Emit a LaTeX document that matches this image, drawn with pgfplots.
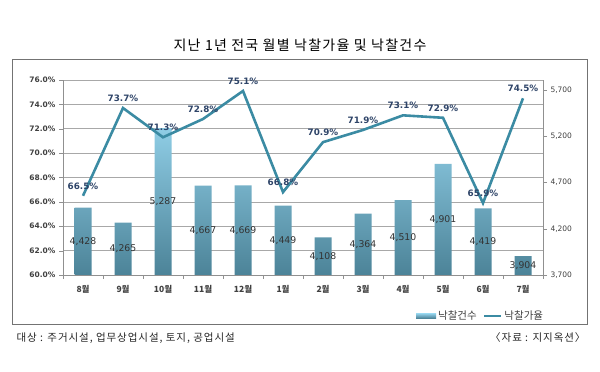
\documentclass[border=0pt]{standalone}
\usepackage{fontspec}
\usepackage{pgfplots}
\pgfplotsset{compat=1.18}
\setmainfont{Noto Sans CJK KR}
\newfontfamily\wide{Noto Sans CJK KR}[LetterSpace=9]
\newfontfamily\dv{DejaVu Sans}
\definecolor{linec}{HTML}{3B8BA3}
\definecolor{labc}{HTML}{2E4468}
\definecolor{bartop}{HTML}{8FCDE5}
\definecolor{barbot}{HTML}{4C8398}
\definecolor{tickc}{HTML}{404040}
\definecolor{gridc}{HTML}{A8A8A8}
\definecolor{axc}{HTML}{909090}
\begin{document}
\begin{tikzpicture}[x=1pt,y=1pt]
\path[use as bounding box] (0,0) rectangle (600,372);
\draw[color=gray!90!black, line width=1pt] (12,312) rectangle (587,47);
\node[font=\wide\fontsize{14}{16}\selectfont] at (300,327) {지난 1년 전국 월별 낙찰가율 및 낙찰건수};
% axis 1: grid, left axis, x axis
\begin{axis}[
  at={(63pt,97pt)}, anchor=south west,
  width=480pt, height=195pt, scale only axis,
  xmin=-0.5, xmax=11.5, ymin=60, ymax=76,
  axis y line*=left, axis x line*=bottom,
  axis line style={color=axc},
  ytick={60,62,...,76},
  ymajorgrids, grid style={color=gridc, line width=0.6pt},
  yticklabel={\pgfmathprintnumber[fixed,fixed zerofill,precision=1]{\tick}\%},
  /pgf/number format/assume math mode=true,
  y tick label style={font=\dv\bfseries\fontsize{7.5}{8}\selectfont, text=tickc},
  xtick={0,...,11},
  xticklabels={8월,9월,10월,11월,12월,1월,2월,3월,4월,5월,6월,7월},
  x tick label style={font=\bfseries\fontsize{8.5}{9}\selectfont, text=tickc, yshift=-3pt},
  major x tick style={draw=none},
  minor xtick={-0.5,0.5,...,11.5},
  tick align=outside,
  major tick length=4pt, minor tick length=4pt,
  tick style={color=axc},
]
\addplot[draw=none] coordinates {(0,60)};
\end{axis}
% axis 2: bars, right axis
\begin{axis}[
  at={(63pt,97pt)}, anchor=south west,
  width=480pt, height=195pt, scale only axis,
  xmin=-0.5, xmax=11.5, ymin=3700, ymax=5808,
  axis y line*=right, axis x line=none,
  axis line style={color=axc},
  ytick={3700,4200,4700,5200,5700},
  /pgf/number format/assume math mode=true,
  /pgf/number format/1000 sep={,},
  y tick label style={font=\dv\fontsize{7.5}{8}\selectfont, text=tickc},
  tick align=outside, major tick length=4pt,
  tick style={color=axc},
]
\addplot[ybar, bar width=17pt, draw=none, top color=bartop, bottom color=barbot, shading angle=0] table {
x y
0 4428
1 4265
2 5287
3 4667
4 4669
5 4449
6 4108
7 4364
8 4510
9 4901
10 4419
11 3904
};
\addplot[draw=none, mark=none, point meta=explicit,
  nodes near coords={\pgfmathprintnumber[1000 sep={,}]{\pgfplotspointmeta}},
  nodes near coords style={anchor=center, font=\dv\fontsize{9.3}{11}\selectfont, text=black!80}]
  table[x=x, y expr=(\thisrow{y}+3700)/2, meta=y] {
x y
0 4428
1 4265
2 5287
3 4667
4 4669
5 4449
6 4108
7 4364
8 4510
9 4901
10 4419
11 3904
};
\end{axis}
% axis 3: line
\begin{axis}[
  at={(63pt,97pt)}, anchor=south west,
  width=480pt, height=195pt, scale only axis,
  xmin=-0.5, xmax=11.5, ymin=60, ymax=76,
  hide axis, clip=false,
  /pgf/number format/assume math mode=true,
  legend style={at={(0.87,-0.21)}, anchor=center, draw=none, fill=none,
    font=\fontsize{10.5}{12}\selectfont, text=tickc, legend columns=2,
    /tikz/every even column/.append style={column sep=4pt}},
  legend cell align=left,
]
\addlegendimage{legend image code/.code={\path[draw=none, top color=bartop, bottom color=barbot] (-2pt,-2.2pt) rectangle (18pt,2.2pt);}}
\addlegendentry{낙찰건수}
\addplot[color=linec, line width=2.6pt, line join=miter, mark=none,
  nodes near coords={\pgfmathprintnumber[fixed,fixed zerofill,precision=1]{\pgfplotspointmeta}\%},
  nodes near coords style={anchor=south, yshift=2pt, font=\dv\bfseries\fontsize{8.8}{10}\selectfont, text=labc}]
  coordinates {
(0,66.5) (1,73.7) (2,71.3) (3,72.8) (4,75.1) (5,66.8)
(6,70.9) (7,71.9) (8,73.1) (9,72.9) (10,65.9) (11,74.5)
};
\addlegendentry{낙찰가율}
\end{axis}
\node[anchor=west, font=\wide\fontsize{10.5}{12}\selectfont, text=black!85] at (13,34) {대상 : 주거시설, 업무상업시설, 토지, 공업시설};
\node[anchor=east, font=\wide\fontsize{10.5}{12}\selectfont, text=black!85] at (589,34) {〈자료 : 지지옥션〉};
\end{tikzpicture}
\end{document}
